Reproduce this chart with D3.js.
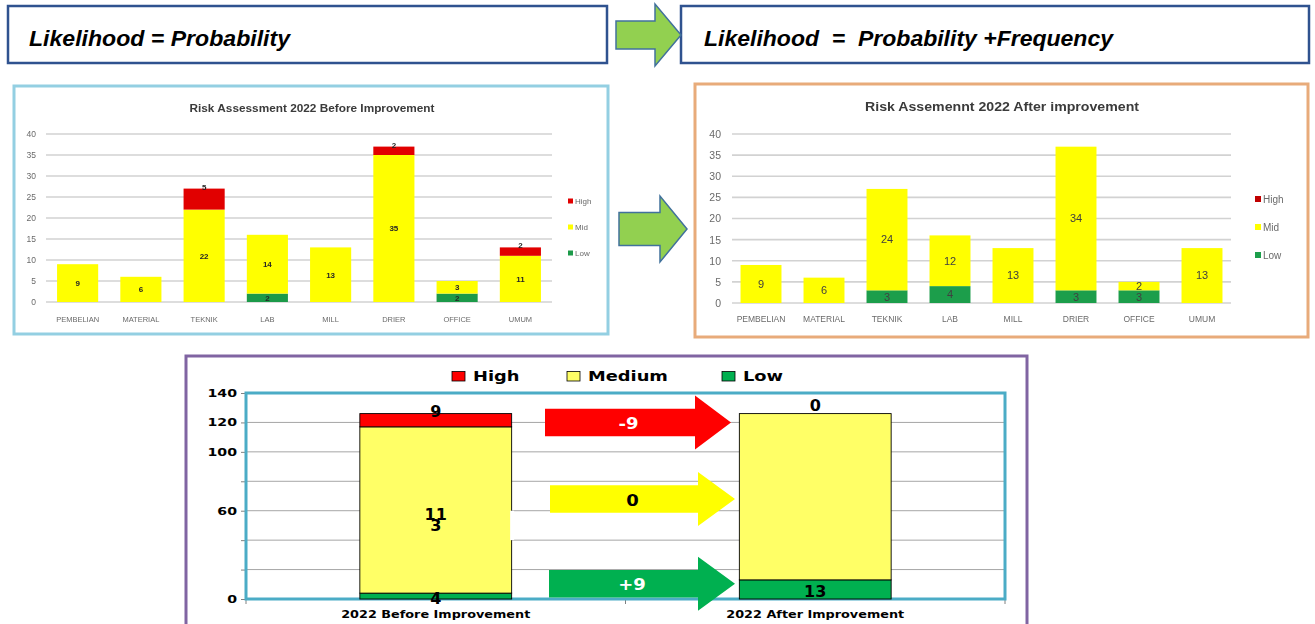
<!DOCTYPE html>
<html>
<head>
<meta charset="utf-8">
<script src="https://cdn.jsdelivr.net/npm/d3@7"></script>
<style>
  body { margin: 0; background: #fff; }
  svg { display: block; }
</style>
</head>
<body>
<svg id="chart" width="1315" height="624"></svg>
<script>
// ---- data ----
const departments = ["PEMBELIAN", "MATERIAL", "TEKNIK", "LAB", "MILL", "DRIER", "OFFICE", "UMUM"];
const beforeLow  = [0, 0, 0, 2, 0, 0, 2, 0];
const beforeMid  = [9, 6, 22, 14, 13, 35, 3, 11];
const beforeHigh = [0, 0, 5, 0, 0, 2, 0, 2];
const afterLow   = [0, 0, 3, 4, 0, 3, 3, 0];
const afterMid   = [9, 6, 24, 12, 13, 34, 2, 13];
const afterHigh  = [0, 0, 0, 0, 0, 0, 0, 0];
const deptTicks  = [0, 5, 10, 15, 20, 25, 30, 35, 40];
const deptLevels = ["High", "Mid", "Low"];

const periods = ["2022 Before Improvement", "2022 After Improvement"];
const totalTicks = [0, 20, 40, 60, 80, 100, 120, 140];
const totalTickLabels = [0, 60, 100, 120, 140];
const totalLevels = ["High", "Medium", "Low"];

const headingLeft  = "Likelihood = Probability";
const headingRight = "Likelihood  =  Probability +Frequency";
const titleBefore  = "Risk Assessment 2022 Before Improvement";
const titleAfter   = "Risk Assemennt 2022 After improvement";

// ---- setup ----
const svg = d3.select("#chart");
svg.append("rect").attr("width", 1315).attr("height", 624).attr("fill", "#fff");
const defs = svg.append("defs");
defs.append("filter").attr("id", "soft")
  .attr("x", "-2%").attr("y", "-2%").attr("width", "104%").attr("height", "104%")
  .append("feGaussianBlur").attr("stdDeviation", 0.6);

const sans = "'Liberation Sans', Arial, sans-serif";
const wide = "'DejaVu Sans', Verdana, sans-serif";

function blockArrow(g, x0, xHead, xTip, cy, bodyHalf, headHalf, fill, stroke) {
  const pts = [
    [x0, cy - bodyHalf], [xHead, cy - bodyHalf], [xHead, cy - headHalf], [xTip, cy],
    [xHead, cy + headHalf], [xHead, cy + bodyHalf], [x0, cy + bodyHalf]
  ];
  return g.append("polygon").attr("points", pts.map(p => p.join(",")).join(" "))
    .attr("fill", fill).attr("stroke", stroke || "none").attr("stroke-width", stroke ? 1.5 : 0);
}

// ---- headings ----
const head = svg.append("g");
head.append("rect").attr("x", 8).attr("y", 6).attr("width", 599).attr("height", 57)
  .attr("fill", "#fff").attr("stroke", "#2f528f").attr("stroke-width", 2.5);
head.append("rect").attr("x", 681).attr("y", 6).attr("width", 628).attr("height", 57)
  .attr("fill", "#fff").attr("stroke", "#2f528f").attr("stroke-width", 2.5);
blockArrow(head, 616, 655, 681, 35, 14, 31, "#92d050", "#41719c");
head.append("text").attr("x", 29).attr("y", 46).text(headingLeft)
  .attr("font-family", sans).attr("font-weight", "bold").attr("font-style", "italic")
  .attr("font-size", 22).attr("textLength", 261).attr("lengthAdjust", "spacingAndGlyphs");
head.append("text").attr("x", 704).attr("y", 46).text(headingRight)
  .style("white-space", "pre")
  .attr("font-family", sans).attr("font-weight", "bold").attr("font-style", "italic")
  .attr("font-size", 22).attr("textLength", 409).attr("lengthAdjust", "spacingAndGlyphs");

// ---- department charts ----
function deptChart(cfg) {
  const g = svg.append("g").attr("filter", "url(#soft)");
  g.append("rect").attr("x", cfg.panel[0]).attr("y", cfg.panel[1])
    .attr("width", cfg.panel[2]).attr("height", cfg.panel[3])
    .attr("fill", "#fff").attr("stroke", cfg.border).attr("stroke-width", 3);

  const rows = departments.map((d, i) => ({ dept: d, Low: cfg.low[i], Mid: cfg.mid[i], High: cfg.high[i] }));
  const series = d3.stack().keys(["Low", "Mid", "High"])(rows);
  const x = d3.scaleBand(departments, cfg.xRange).paddingInner(0.35).paddingOuter(0.175);
  const y = d3.scaleLinear([0, 40], cfg.yRange);

  g.append("g").selectAll("line").data(deptTicks).join("line")
    .attr("x1", cfg.gridX[0]).attr("x2", cfg.gridX[1])
    .attr("y1", d => y(d)).attr("y2", d => y(d))
    .attr("stroke", "#d2d2d2").attr("stroke-width", 1.6);

  const ya = g.append("g").attr("transform", `translate(${cfg.axisX},0)`)
    .call(d3.axisLeft(y).tickValues(deptTicks).tickSize(0).tickPadding(0));
  ya.select(".domain").remove();
  ya.selectAll("text").attr("font-family", sans).attr("font-size", cfg.yFont).attr("fill", "#6a6a6a");

  const xa = g.append("g").attr("transform", `translate(0,${cfg.yRange[0]})`)
    .call(d3.axisBottom(x).tickSize(0).tickPadding(cfg.xPad));
  xa.select(".domain").remove();
  xa.selectAll("text").attr("font-family", sans).attr("font-size", cfg.xFont).attr("fill", "#6a6a6a");

  g.append("g").selectAll("g").data(series).join("g")
    .attr("fill", s => cfg.colors[s.key])
    .selectAll("rect").data(s => s.filter(d => d[1] > d[0])).join("rect")
    .attr("x", d => x(d.data.dept)).attr("width", x.bandwidth())
    .attr("y", d => y(d[1])).attr("height", d => y(d[0]) - y(d[1]));

  const labels = g.append("g").attr("font-family", sans).attr("font-size", cfg.labelFont)
    .attr("font-weight", cfg.labelWeight).attr("fill", cfg.labelColor).attr("text-anchor", "middle");
  series.forEach(s => {
    s.filter(d => d[1] > d[0]).forEach(d => {
      const cx = x(d.data.dept) + x.bandwidth() / 2;
      const t = labels.append("text").attr("x", cx).text(d[1] - d[0]);
      if (s.key === "High") t.attr("y", y(d[1]) + 1);
      else t.attr("y", (y(d[0]) + y(d[1])) / 2).attr("dy", "0.35em");
    });
  });

  g.append("text").attr("x", cfg.titleX).attr("y", cfg.titleY).text(cfg.title)
    .attr("text-anchor", "middle").attr("font-family", sans).attr("font-weight", "bold")
    .attr("font-size", cfg.titleFont).attr("fill", "#3a3a3a")
    .attr("textLength", cfg.titleLen).attr("lengthAdjust", "spacingAndGlyphs");

  const lg = g.append("g").attr("font-family", sans).attr("font-size", cfg.legendFont).attr("fill", "#6a6a6a");
  deptLevels.forEach((k, i) => {
    const ly = cfg.legendY[i];
    lg.append("rect").attr("x", cfg.legendX).attr("y", ly - cfg.legendBox / 2)
      .attr("width", cfg.legendBox).attr("height", cfg.legendBox).attr("fill", cfg.colors[k]);
    lg.append("text").attr("x", cfg.legendX + cfg.legendBox + 2).attr("y", ly).attr("dy", "0.35em").text(k);
  });
}

deptChart({
  panel: [14, 86, 594, 248], border: "#93cfe2",
  low: beforeLow, mid: beforeMid, high: beforeHigh,
  xRange: [46, 552], yRange: [302, 134], gridX: [46, 552], axisX: 36,
  yFont: 8.5, xFont: 7.5, xPad: 15,
  colors: { High: "#e10000", Mid: "#ffff00", Low: "#1f9a48" },
  labelFont: 8, labelWeight: "bold", labelColor: "#262626",
  title: titleBefore, titleX: 312, titleY: 112, titleFont: 11, titleLen: 245,
  legendX: 568, legendY: [201, 227, 253], legendBox: 5, legendFont: 8
});

deptChart({
  panel: [695, 84, 613, 253], border: "#e8ab7a",
  low: afterLow, mid: afterMid, high: afterHigh,
  xRange: [729.5, 1233.5], yRange: [303, 134], gridX: [732, 1231], axisX: 721,
  yFont: 10.5, xFont: 8.5, xPad: 13,
  colors: { High: "#c00000", Mid: "#ffff00", Low: "#1f9e4c" },
  labelFont: 11, labelWeight: "normal", labelColor: "#404040",
  title: titleAfter, titleX: 1002, titleY: 111, titleFont: 12, titleLen: 274,
  legendX: 1255, legendY: [199, 227, 255], legendBox: 6, legendFont: 10
});

// arrow between the two department charts
blockArrow(svg.append("g"), 619, 660, 687, 229, 16.5, 33, "#92d050", "#41719c");

// ---- totals chart ----
const totHigh = [d3.sum(beforeHigh), d3.sum(afterHigh)];
const totMid  = [d3.sum(beforeMid),  d3.sum(afterMid)];
const totLow  = [d3.sum(beforeLow),  d3.sum(afterLow)];
const totColors = { High: "#ff0000", Medium: "#ffff66", Low: "#00b050" };

const bg = svg.append("g");
bg.append("rect").attr("x", 186).attr("y", 356).attr("width", 841).attr("height", 290)
  .attr("fill", "#fff").attr("stroke", "#8064a2").attr("stroke-width", 3);

const tx = d3.scaleBand(periods, [246, 1005]).paddingInner(0.6).paddingOuter(0.3);
const ty = d3.scaleLinear([0, 140], [599, 393]);

function stretch(sel, k) {
  sel.attr("lengthAdjust", "spacingAndGlyphs")
    .attr("textLength", function () { return this.getComputedTextLength() * k; });
}

// gridlines
bg.append("g").selectAll("line").data(totalTicks.filter(d => d > 0 && d < 140)).join("line")
  .attr("x1", 246).attr("x2", 1005).attr("y1", d => ty(d)).attr("y2", d => ty(d))
  .attr("stroke", "#a6a6a6").attr("stroke-width", 1);

// y axis
const tya = bg.append("g").attr("transform", "translate(246,0)")
  .call(d3.axisLeft(ty).tickValues(totalTicks).tickSize(5).tickPadding(4)
    .tickFormat(d => totalTickLabels.includes(d) ? d : ""));
tya.select(".domain").remove();
tya.selectAll("line").attr("stroke", "#808080");
tya.selectAll("text").attr("font-family", wide).attr("font-weight", "bold")
  .attr("font-size", 10.5).attr("fill", "#000").call(stretch, 1.35);

// category boundary ticks
const bounds = [tx.range()[0], tx(periods[1]) - tx.step() * tx.paddingInner() / 2, tx.range()[1]];
bg.append("g").selectAll("line").data(bounds).join("line")
  .attr("x1", d => d).attr("x2", d => d).attr("y1", 599).attr("y2", 604)
  .attr("stroke", "#808080");

// plot frame
bg.append("rect").attr("x", 246).attr("y", 393).attr("width", 759).attr("height", 206)
  .attr("fill", "none").attr("stroke", "#4bacc6").attr("stroke-width", 3);

// stacked bars
const totRows = periods.map((p, i) => ({ period: p, Low: totLow[i], Medium: totMid[i], High: totHigh[i] }));
const totSeries = d3.stack().keys(["Low", "Medium", "High"])(totRows);
bg.append("g").selectAll("g").data(totSeries).join("g")
  .attr("fill", s => totColors[s.key])
  .selectAll("rect").data(s => s.filter(d => d[1] > d[0])).join("rect")
  .attr("x", d => tx(d.data.period)).attr("width", tx.bandwidth())
  .attr("y", d => ty(d[1])).attr("height", d => ty(d[0]) - ty(d[1]))
  .attr("stroke", "#000").attr("stroke-width", 0.9);

// small break in the first bar's right outline
bg.append("rect").attr("x", tx(periods[0]) + tx.bandwidth() - 1.5).attr("y", ty(60))
  .attr("width", 4).attr("height", ty(40) - ty(60)).attr("fill", "#fff");

// value labels
const vl = bg.append("g").attr("font-family", wide).attr("font-weight", "bold")
  .attr("font-size", 16).attr("fill", "#000").attr("text-anchor", "middle");
totSeries.forEach(s => {
  s.forEach((d, i) => {
    const cx = tx(d.data.period) + tx.bandwidth() / 2;
    const v = d[1] - d[0];
    const mid = (ty(d[0]) + ty(d[1])) / 2;
    if (s.key === "High") {
      vl.append("text").attr("x", cx).attr("y", ty(d[1]) + (v > 0 ? 3.5 : -3)).text(v);
    } else if (s.key === "Low") {
      vl.append("text").attr("x", cx).attr("y", mid + 8).text(v);
    } else if (i === 0) {
      // the label wraps onto two tight lines
      const str = String(v);
      vl.append("text").attr("x", cx).attr("y", mid + 10).text(str.slice(0, 2));
      vl.append("text").attr("x", cx).attr("y", mid + 21).text(str.slice(2));
    }
  });
});

// category labels
bg.append("g").selectAll("text").data(periods).join("text")
  .attr("x", d => tx(d) + tx.bandwidth() / 2).attr("y", 618)
  .attr("text-anchor", "middle").attr("font-family", wide).attr("font-weight", "bold")
  .attr("font-size", 10.5).attr("fill", "#000").text(d => d).call(stretch, 1.22);

// legend
const legendX = [452, 567, 722];
totalLevels.forEach((k, i) => {
  bg.append("rect").attr("x", legendX[i]).attr("y", 371.5).attr("width", 13).attr("height", 9.5)
    .attr("fill", totColors[k]).attr("stroke", "#000").attr("stroke-width", 0.8);
  bg.append("text").attr("x", legendX[i] + 21).attr("y", 381).text(k)
    .attr("font-family", wide).attr("font-weight", "bold").attr("font-size", 13.5)
    .attr("fill", "#000").call(stretch, 1.32);
});

// change arrows
const changes = [
  { key: "High",   cy: 422.5, x0: 545, text: "#fff" },
  { key: "Medium", cy: 499,   x0: 550, text: "#000" },
  { key: "Low",    cy: 583.7, x0: 549, text: "#fff" }
];
const lookup = { High: totHigh, Medium: totMid, Low: totLow };
changes.forEach(c => {
  const xHead = c.key === "High" ? 695 : 698;
  const xTip = c.key === "High" ? 731 : 735;
  blockArrow(bg, c.x0, xHead, xTip, c.cy, 13.7, 27, totColors[c.key] === "#ffff66" ? "#ffff00" : totColors[c.key]);
  const diff = lookup[c.key][1] - lookup[c.key][0];
  const label = diff > 0 ? "+" + diff : String(diff);
  bg.append("text").attr("x", (c.x0 + xHead) / 2 + 8.5).attr("y", c.cy + 6.5)
    .attr("text-anchor", "middle").attr("font-family", wide).attr("font-weight", "bold")
    .attr("font-size", 15).attr("fill", c.text).text(label).call(stretch, 1.2);
});
</script>
</body>
</html>
